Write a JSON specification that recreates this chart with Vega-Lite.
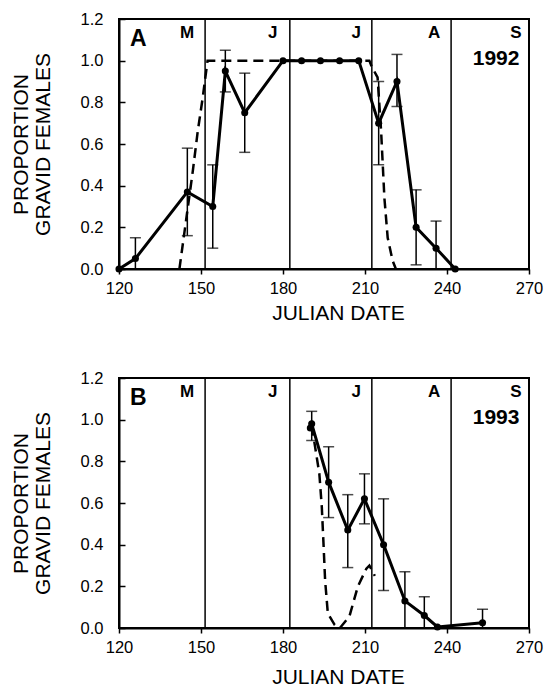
{
  "$schema": "https://vega.github.io/schema/vega-lite/v6.json",
  "padding": {"left": 9, "top": 10, "right": 5, "bottom": 0},
  "spacing": 44,
  "background": "white",
  "config": {
    "font": "Liberation Sans",
    "view": {"stroke": "black", "strokeWidth": 2},
    "scale": {"continuousPadding": 0},
    "axis": {
      "grid": false,
      "labelFlush": false,
      "domainColor": "black",
      "domainWidth": 2,
      "tickColor": "black",
      "tickWidth": 1.5,
      "labelColor": "black",
      "titleColor": "black",
      "labelFont": "Liberation Sans",
      "titleFont": "Liberation Sans",
      "labelFontSize": 16.5,
      "titleFontSize": 21,
      "titleFontWeight": "normal"
    }
  },
  "datasets": {
    "ptsA": [
      {"day": 120, "p": 0},
      {"day": 126, "p": 0.05, "lo": 0, "hi": 0.15},
      {"day": 145, "p": 0.37, "lo": 0.16, "hi": 0.58},
      {"day": 154.3, "p": 0.30, "lo": 0.10, "hi": 0.50},
      {"day": 158.9, "p": 0.95, "lo": 0.85, "hi": 1.05},
      {"day": 166, "p": 0.75, "lo": 0.56, "hi": 0.94},
      {"day": 180, "p": 1.0},
      {"day": 186.8, "p": 1.0},
      {"day": 193.7, "p": 1.0},
      {"day": 200.7, "p": 1.0},
      {"day": 207.7, "p": 1.0},
      {"day": 215, "p": 0.70, "lo": 0.50, "hi": 0.90},
      {"day": 221.7, "p": 0.90, "lo": 0.78, "hi": 1.03},
      {"day": 228.7, "p": 0.20, "lo": 0.02, "hi": 0.38},
      {"day": 236, "p": 0.10, "lo": 0, "hi": 0.23},
      {"day": 243, "p": 0}
    ],
    "ptsB": [
      {"day": 190, "p": 0.96},
      {"day": 190.5, "p": 0.98, "lo": 0.90, "hi": 1.04},
      {"day": 196.7, "p": 0.70, "lo": 0.53, "hi": 0.87},
      {"day": 203.7, "p": 0.47, "lo": 0.29, "hi": 0.64},
      {"day": 209.8, "p": 0.62, "lo": 0.50, "hi": 0.74},
      {"day": 216.8, "p": 0.40, "lo": 0.18, "hi": 0.62},
      {"day": 224.6, "p": 0.13, "lo": 0, "hi": 0.27},
      {"day": 231.7, "p": 0.06, "lo": 0, "hi": 0.15},
      {"day": 236.5, "p": 0.005},
      {"day": 253, "p": 0.025, "lo": 0, "hi": 0.09}
    ],
    "dashA": [
      {"day": 142.1, "p": 0},
      {"day": 144.5, "p": 0.23},
      {"day": 147, "p": 0.47},
      {"day": 148.8, "p": 0.66},
      {"day": 150.6, "p": 0.82},
      {"day": 152.4, "p": 1.0},
      {"day": 211.6, "p": 1.0},
      {"day": 212.5, "p": 0.97},
      {"day": 214.6, "p": 0.92},
      {"day": 215.9, "p": 0.66},
      {"day": 216.5, "p": 0.50},
      {"day": 217.1, "p": 0.34},
      {"day": 218.3, "p": 0.15},
      {"day": 220.1, "p": 0.04},
      {"day": 221.3, "p": 0}
    ],
    "dashB": [
      {"day": 190.3, "p": 0.97},
      {"day": 190.9, "p": 0.94},
      {"day": 193.3, "p": 0.74},
      {"day": 194.2, "p": 0.58},
      {"day": 194.8, "p": 0.41},
      {"day": 195.4, "p": 0.23},
      {"day": 196.4, "p": 0.07},
      {"day": 198.9, "p": 0.015},
      {"day": 200.8, "p": 0},
      {"day": 204.3, "p": 0.056},
      {"day": 207.4, "p": 0.2},
      {"day": 210.5, "p": 0.285},
      {"day": 211.6, "p": 0.3},
      {"day": 213.6, "p": 0.25}
    ],
    "months": [
      {"day": 151.5}, {"day": 182.5}, {"day": 212.5}, {"day": 241.5}
    ],
    "monthLabels": [
      {"day": 147.5, "p": 1.11, "t": "M"},
      {"day": 178, "p": 1.11, "t": "J"},
      {"day": 208.5, "p": 1.11, "t": "J"},
      {"day": 237.5, "p": 1.11, "t": "A"},
      {"day": 267.3, "p": 1.11, "t": "S"}
    ],
    "tagA": [{"day": 124, "p": 1.07, "t": "A"}],
    "yearA": [{"day": 266.5, "p": 0.978, "t": "1992"}],
    "tagB": [{"day": 124, "p": 1.07, "t": "B"}],
    "yearB": [{"day": 266.5, "p": 0.978, "t": "1993"}]
  },
  "vconcat": [
    {
      "width": 410,
      "height": 250,
      "encoding": {
        "x": {"field": "day", "type": "quantitative", "scale": {"domain": [120, 270], "nice": false, "zero": false, "padding": 0},
              "axis": {"values": [120, 150, 180, 210, 240, 270], "title": "JULIAN DATE", "tickSize": 5, "labelPadding": 6, "titlePadding": 6, "titleX": 219}},
        "y": {"field": "p", "type": "quantitative", "scale": {"domain": [0, 1.2], "nice": false, "padding": 0},
              "axis": {"values": [0, 0.2, 0.4, 0.6, 0.8, 1.0, 1.2], "format": ".1f", "title": ["PROPORTION", "GRAVID FEMALES"], "tickSize": -6, "labelPadding": 22, "titlePadding": 27, "titleLineHeight": 22}}
      },
      "layer": [
        {"data": {"name": "months"}, "mark": {"type": "rule", "color": "black", "strokeWidth": 1.5}, "encoding": {"y": null}},
        {"data": {"name": "dashA"}, "mark": {"type": "line", "color": "black", "strokeWidth": 2.5, "strokeDash": [10, 6]}},
        {"data": {"name": "ptsA"}, "transform": [{"filter": "isValid(datum.hi)"}], "mark": {"type": "rule", "color": "black", "strokeWidth": 1.5}, "encoding": {"y": {"field": "lo", "type": "quantitative"}, "y2": {"field": "hi"}}},
        {"data": {"name": "ptsA"}, "transform": [{"filter": "isValid(datum.hi)"}], "mark": {"type": "tick", "orient": "horizontal", "color": "black", "size": 11, "thickness": 1.5}, "encoding": {"y": {"field": "hi", "type": "quantitative"}}},
        {"data": {"name": "ptsA"}, "transform": [{"filter": "datum.lo > 0"}], "mark": {"type": "tick", "orient": "horizontal", "color": "black", "size": 11, "thickness": 1.5}, "encoding": {"y": {"field": "lo", "type": "quantitative"}}},
        {"data": {"name": "ptsA"}, "mark": {"type": "line", "color": "black", "strokeWidth": 3}},
        {"data": {"name": "ptsA"}, "mark": {"type": "circle", "color": "black", "opacity": 1, "size": 50}},
        {"data": {"name": "monthLabels"}, "mark": {"type": "text", "align": "right", "baseline": "alphabetic", "fontSize": 17, "fontWeight": "bold", "color": "black"}, "encoding": {"text": {"field": "t"}}},
        {"data": {"name": "tagA"}, "mark": {"type": "text", "align": "left", "baseline": "alphabetic", "fontSize": 23, "fontWeight": "bold", "color": "black"}, "encoding": {"text": {"field": "t"}}},
        {"data": {"name": "yearA"}, "mark": {"type": "text", "align": "right", "baseline": "alphabetic", "fontSize": 21, "fontWeight": "bold", "color": "black"}, "encoding": {"text": {"field": "t"}}}
      ]
    },
    {
      "width": 410,
      "height": 250,
      "encoding": {
        "x": {"field": "day", "type": "quantitative", "scale": {"domain": [120, 270], "nice": false, "zero": false, "padding": 0},
              "axis": {"values": [120, 150, 180, 210, 240, 270], "title": "JULIAN DATE", "tickSize": 5, "labelPadding": 6, "titlePadding": 11, "titleX": 219}},
        "y": {"field": "p", "type": "quantitative", "scale": {"domain": [0, 1.2], "nice": false, "padding": 0},
              "axis": {"values": [0, 0.2, 0.4, 0.6, 0.8, 1.0, 1.2], "format": ".1f", "title": ["PROPORTION", "GRAVID FEMALES"], "tickSize": -6, "labelPadding": 22, "titlePadding": 27, "titleLineHeight": 22}}
      },
      "layer": [
        {"data": {"name": "months"}, "mark": {"type": "rule", "color": "black", "strokeWidth": 1.5}, "encoding": {"y": null}},
        {"data": {"name": "dashB"}, "mark": {"type": "line", "color": "black", "strokeWidth": 2.5, "strokeDash": [10, 6]}},
        {"data": {"name": "ptsB"}, "transform": [{"filter": "isValid(datum.hi)"}], "mark": {"type": "rule", "color": "black", "strokeWidth": 1.5}, "encoding": {"y": {"field": "lo", "type": "quantitative"}, "y2": {"field": "hi"}}},
        {"data": {"name": "ptsB"}, "transform": [{"filter": "isValid(datum.hi)"}], "mark": {"type": "tick", "orient": "horizontal", "color": "black", "size": 11, "thickness": 1.5}, "encoding": {"y": {"field": "hi", "type": "quantitative"}}},
        {"data": {"name": "ptsB"}, "transform": [{"filter": "datum.lo > 0"}], "mark": {"type": "tick", "orient": "horizontal", "color": "black", "size": 11, "thickness": 1.5}, "encoding": {"y": {"field": "lo", "type": "quantitative"}}},
        {"data": {"name": "ptsB"}, "mark": {"type": "line", "color": "black", "strokeWidth": 3}},
        {"data": {"name": "ptsB"}, "mark": {"type": "circle", "color": "black", "opacity": 1, "size": 50}},
        {"data": {"name": "monthLabels"}, "mark": {"type": "text", "align": "right", "baseline": "alphabetic", "fontSize": 17, "fontWeight": "bold", "color": "black"}, "encoding": {"text": {"field": "t"}}},
        {"data": {"name": "tagB"}, "mark": {"type": "text", "align": "left", "baseline": "alphabetic", "fontSize": 23, "fontWeight": "bold", "color": "black"}, "encoding": {"text": {"field": "t"}}},
        {"data": {"name": "yearB"}, "mark": {"type": "text", "align": "right", "baseline": "alphabetic", "fontSize": 21, "fontWeight": "bold", "color": "black"}, "encoding": {"text": {"field": "t"}}}
      ]
    }
  ]
}
